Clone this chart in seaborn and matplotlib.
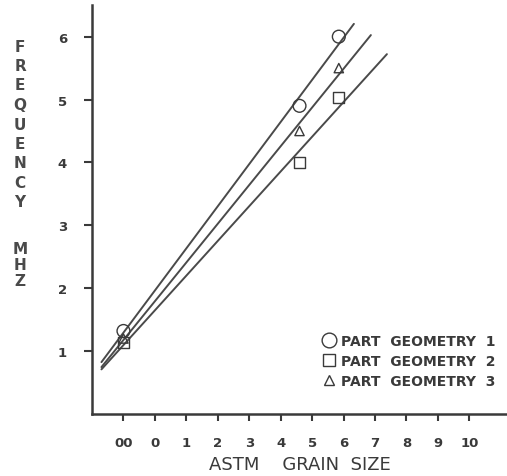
import numpy as np
import pandas as pd
import matplotlib
matplotlib.use("Agg")
import matplotlib.pyplot as plt
import seaborn as sns

# grain size "00" is plotted at -1, "0" at 0, ...
grain_circle = [-1, 4.6, 5.85]
freq_circle = [1.32, 4.9, 6.0]
grain_square = [-1, 4.6, 5.85]
freq_square = [1.13, 4.0, 5.03]
grain_triangle = [-1, 4.6, 5.85]
freq_triangle = [1.2, 4.5, 5.5]

labels = ["PART  GEOMETRY  1", "PART  GEOMETRY  2", "PART  GEOMETRY  3"]
xtick_pos = [-1, 0, 1, 2, 3, 4, 5, 6, 7, 8, 9, 10]
xtick_labels = ["00", "0", "1", "2", "3", "4", "5", "6", "7", "8", "9", "10"]
ytick_pos = [1, 2, 3, 4, 5, 6]

ink = "#3a3a3a"
sns.set_style("ticks")
plt.rcParams["font.family"] = ["DejaVu Sans"]

fig = plt.figure(figsize=(5.07, 4.77), dpi=100)
ax = fig.add_axes([0.1815, 0.13, 0.8185, 0.857])

series = [
    (grain_circle, freq_circle, "o", 85, 6.33),
    (grain_square, freq_square, "s", 64, 7.38),
    (grain_triangle, freq_triangle, "^", 45, 6.87),
]

handles = []
for (gx, fy, mk, size, x_end), lab in zip(series, labels):
    df = pd.DataFrame({"grain": gx, "freq": fy})
    n_before = len(ax.collections)
    sns.scatterplot(data=df, x="grain", y="freq", marker=mk, s=size,
                    color=ink, linewidth=1.0, ax=ax, zorder=3)
    coll = ax.collections[n_before]
    coll.set_facecolor("none")
    coll.set_edgecolor(ink)
    # least squares line through the points
    slope, icpt = np.polyfit(gx, fy, 1)
    xs = np.array([-1.7, x_end])
    ax.plot(xs, slope * xs + icpt, color="#4a4a4a", lw=1.4, zorder=2)
    handles.append(plt.Line2D([], [], ls="none", marker=mk, mfc="none",
                              mec=ink, mew=1.0, ms=np.sqrt(size) * 1.15,
                              label=lab))

ax.set_xlim(-2, 11.2)
ax.set_ylim(0, 6.5)
ax.set_xticks(xtick_pos)
ax.set_xticklabels(xtick_labels)
ax.set_yticks(ytick_pos)
ax.set_yticklabels([str(v) for v in ytick_pos])
ax.tick_params(axis="x", length=5, width=1.5, pad=11, labelsize=9.5,
               colors=ink)
ax.tick_params(axis="y", length=6, width=1.5, pad=12, labelsize=9.5,
               colors=ink)
for lab in ax.get_xticklabels() + ax.get_yticklabels():
    lab.set_fontweight("bold")
sns.despine(ax=ax)
for sp in ["left", "bottom"]:
    ax.spines[sp].set_linewidth(1.8)
    ax.spines[sp].set_color(ink)

ax.set_xlabel("ASTM    GRAIN  SIZE", fontsize=13, color=ink, labelpad=4)
ax.set_ylabel("")

# stacked vertical axis title
y0 = 1 - 47 / 477
for i, ch in enumerate("FREQUENCY"):
    fig.text(20 / 507, y0 - i * 19.5 / 477, ch, ha="center", va="center",
             fontsize=11, fontweight="bold", color="#4a4a4a")
y1 = 1 - 250 / 477
for i, ch in enumerate("MHZ"):
    fig.text(20 / 507, y1 - i * 16 / 477, ch, ha="center", va="center",
             fontsize=11, fontweight="bold", color="#4a4a4a")

leg = ax.legend(handles=handles, loc="upper left",
                bbox_to_anchor=(0.54, 0.21), frameon=False,
                handletextpad=0.4, handlelength=1.0, labelspacing=0.45,
                borderaxespad=0, prop={"size": 10, "weight": "bold"})
for t in leg.get_texts():
    t.set_color(ink)

fig.savefig("out.png", dpi=100)
